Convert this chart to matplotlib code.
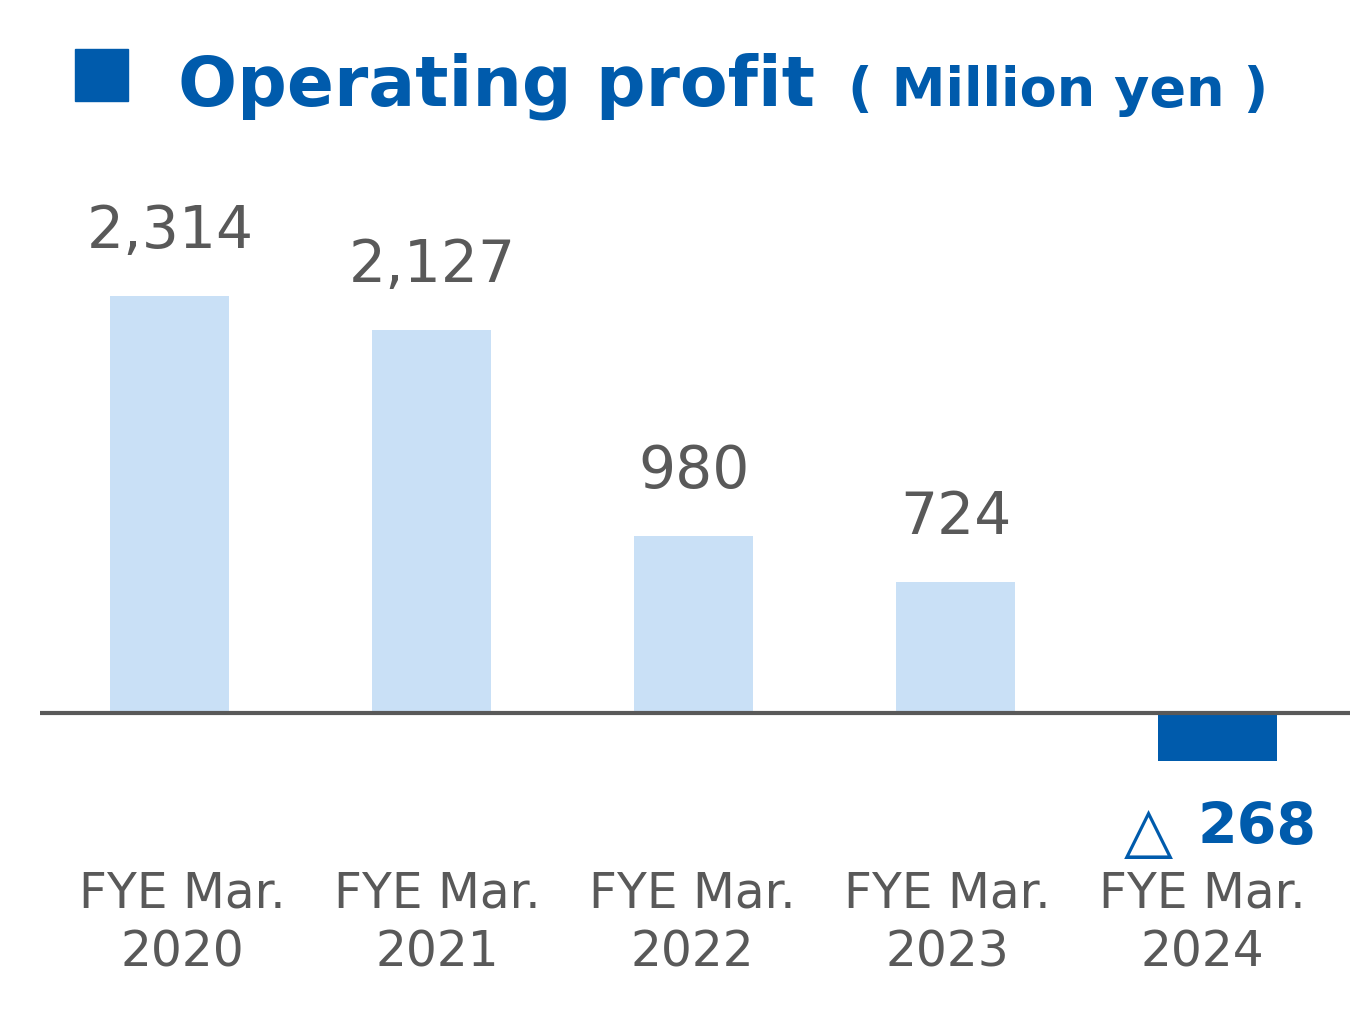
import matplotlib.pyplot as plt
from matplotlib.patches import Rectangle

# Operating profit, million yen
years = ["FYE Mar.\n2020", "FYE Mar.\n2021", "FYE Mar.\n2022", "FYE Mar.\n2023", "FYE Mar.\n2024"]
profit = [2314, 2127, 980, 724, -268]
value_labels = ["2,314", "2,127", "980", "724", "268"]

light_blue = "#C9E0F6"
dark_blue = "#005BAC"
grey = "#595959"

W, H = 1355, 1020
fig = plt.figure(figsize=(W / 100, H / 100), dpi=100)

# axes placed in pixel terms: x 40..1350, y 180..780 (from top)
ax = fig.add_axes([40 / W, 1 - 780 / H, 1310 / W, 600 / H])
ax.set_xlim(-0.496, 4.504)
ax.set_ylim(-366, 2962)
ax.axis("off")

colors = [light_blue if v >= 0 else dark_blue for v in profit]
x = list(range(len(profit)))
ax.bar(x, profit, width=0.454, color=colors, zorder=2)
ax.axhline(0, color=grey, lw=3, zorder=3)

for i, (v, lab) in enumerate(zip(profit, value_labels)):
    if v >= 0:
        ax.annotate(lab, (i, v), xytext=(0, 37), textcoords="offset pixels",
                    ha="center", va="bottom", fontsize=42, color=grey)
    else:
        ax.annotate("\u25b3", (i, v), xytext=(-45, -40), textcoords="offset pixels",
                    ha="right", va="top", fontsize=46, color=dark_blue)
        ax.annotate(lab, (i, v), xytext=(-20, -39), textcoords="offset pixels",
                    ha="left", va="top", fontsize=41, color=dark_blue, fontweight="bold")

# category labels under the axis - spaced a little tighter than the bars
for i, lab in enumerate(years):
    ax.annotate(lab, (i, 0), xytext=(12 - 7 * i, -155), textcoords="offset pixels",
                ha="center", va="top", fontsize=35, color=grey, linespacing=1.3)

# title with square marker
fig.patches.append(Rectangle((75 / W, 1 - 102 / H), 53 / W, 52 / H,
                             transform=fig.transFigure, color=dark_blue))
fig.text(178 / W, 1 - 106 / H, "Operating profit", fontsize=50, fontweight="bold",
         color=dark_blue, ha="left", va="baseline")
fig.text(848 / W, 1 - 106 / H, "( Million yen )", fontsize=39, fontweight="bold",
         color=dark_blue, ha="left", va="baseline")

fig.savefig("out.png", dpi=100)
